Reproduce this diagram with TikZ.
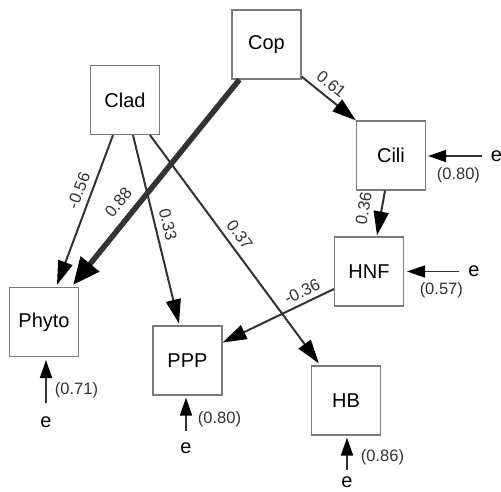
\documentclass[tikz,border=0pt]{standalone}
\usepackage{fontspec}
\setmainfont{Liberation Sans}
\usetikzlibrary{arrows.meta,calc}
\definecolor{boxgray}{HTML}{7A7A7A}
\definecolor{linegray}{HTML}{333333}
\begin{document}
\begin{tikzpicture}[x=1pt,y=-1pt,
  box/.style={draw=boxgray,line width=1.2pt,minimum size=69pt,inner sep=0pt,
    font=\fontsize{20}{24}\selectfont},
  arr/.style={draw=linegray,line width=2pt,-{Triangle[length=24pt,width=15pt,color=black]}},
  thickarr/.style={draw=linegray,line width=5.5pt,-{Triangle[length=27pt,width=23pt,color=black]}},
  res/.style={draw=linegray,line width=1.8pt,-{Triangle[length=18pt,width=12pt,color=black]}},
  lab/.style={inner sep=0pt,text=linegray,font=\fontsize{16.5}{20}\selectfont},
  enode/.style={inner sep=0pt,font=\fontsize{20}{24}\selectfont}]
\useasboundingbox (0,0) rectangle (501,492);
\fill[white] (0,0) rectangle (501,492);

% variables
\node[box] (Clad)  at (125,100)   {Clad};
\node[box] (Cop)   at (266.5,44.5) {Cop};
\node[box] (Cili)  at (391,155.5) {Cili};
\node[box] (HNF)   at (369,271.5) {HNF};
\node[box] (Phyto) at (44,322)    {Phyto};
\node[box] (PPP)   at (187.5,360.5) {PPP};
\node[box] (HB)    at (346,400.5) {HB};

% paths
\draw[arr] ($(Clad.south)+(-12,0)$) -- node[lab,sloped,above=6pt,pos=.40]{-0.56} ($(Phyto.north)+(13,-2)$);
\draw[thickarr] ($(Cop.south west)+(8,0)$) -- node[lab,sloped,above=8pt,pos=.65]{0.88} ($(Phyto.north east)+(-6,-2)$);
\draw[arr] ($(Clad.south)+(8,0)$) -- node[lab,sloped,above=6pt,pos=.49]{0.33} ($(PPP.north)+(-8.5,-2)$);
\draw[arr] ($(Clad.south)+(25,0)$) -- node[lab,sloped,above=6pt,pos=.47]{0.37} ($(HB.north west)+(8,-2)$);
\draw[arr] ($(Cop.south east)+(0,-3)$) -- node[lab,sloped,above=6pt,pos=.40]{0.61} (Cili.north west);
\draw[arr] ($(Cili.south)+(-6,0)$) -- node[lab,sloped,above=11pt,pos=.47]{0.36} ($(HNF.north)+(8,-1)$);
\draw[arr] ($(HNF.west)+(0,17.5)$) -- node[lab,sloped,above=5pt,pos=.24]{-0.36} ($(PPP.east)+(0,-18)$);

% residuals
\node[enode] (eCili)  at (496.5,156) {e};
\node[enode] (eHNF)   at (474,271.5) {e};
\node[enode] (ePhyto) at (46,422) {e};
\node[enode] (ePPP)   at (186,448) {e};
\node[enode] (eHB)    at (347,482.5) {e};

\draw[res,shorten <=9pt,shorten >=2pt] (eCili.west) -- node[lab,below=11pt,pos=.5]{(0.80)} (eCili.west -| Cili.east);
\draw[res,shorten <=9pt,shorten >=3pt] (eHNF.west) -- node[lab,below=10pt,pos=.42]{(0.57)} (eHNF.west -| HNF.east);
\draw[res,shorten <=13.5pt,shorten >=3pt] (ePhyto.north) -- node[lab,right=8pt,pos=.44]{(0.71)} (ePhyto.north |- Phyto.south);
\draw[res,shorten <=11.5pt,shorten >=2pt] (ePPP.north) -- node[lab,right=11pt,pos=.5]{(0.80)} (ePPP.north |- PPP.south);
\draw[res,shorten <=7pt,shorten >=2pt] (eHB.north) -- node[lab,right=13pt,pos=.48]{(0.86)} (eHB.north |- HB.south);
\end{tikzpicture}
\end{document}
